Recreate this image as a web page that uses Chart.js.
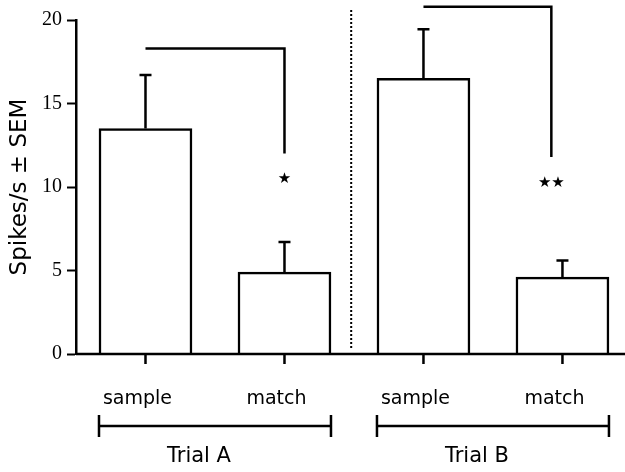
<!DOCTYPE html>
<html>
<head>
<meta charset="utf-8">
<script src="https://cdn.jsdelivr.net/npm/chart.js@4/dist/chart.umd.min.js"></script>
<style>
  html, body { margin: 0; padding: 0; background: #fff; }
  #wrap { width: 625px; height: 472px; }
</style>
</head>
<body>
<div id="wrap"><canvas id="myChart"></canvas></div>
<script>
const categories = ['sample', 'match', 'sample', 'match'];
const positions = [1, 2, 3, 4];
const trials = ['Trial A', 'Trial B'];
const means = [13.5, 4.9, 16.5, 4.6];
const sem = [3.2, 1.8, 2.95, 1.0];
const yTicks = [0, 5, 10, 15, 20];

// significance brackets (x in bar positions, y in spikes/s)
const sigFrom = [1, 3];
const sigTo = [2, 3.92];
const sigLevel = [18.3, 20.8];
const sigDrop = [12.0, 11.8];
const sigMarks = ['★', '★★'];

// dotted divider between the trials
const dividerX = 2.48;
const dividerTop = 20.6;

const black = '#000';
const sans = "'DejaVu Sans', sans-serif";

const data = {
  datasets: [{
    label: 'Spikes/s',
    data: positions.map((p, i) => ({ x: p, y: means[i] })),
    backgroundColor: '#fff',
    borderColor: black,
    borderWidth: 2.5,
    barThickness: 93
  }]
};

// extra drawing: error bars, axis, labels, brackets
const extras = {
  id: 'extras',
  afterDraw(chart) {
    const ctx = chart.ctx;
    const xs = chart.scales.x;
    const ys = chart.scales.y;
    const area = chart.chartArea;
    const y0 = ys.getPixelForValue(0);
    ctx.save();
    ctx.strokeStyle = black;
    ctx.fillStyle = black;
    ctx.lineWidth = 2.5;

    // x axis line
    ctx.beginPath();
    ctx.moveTo(area.left, y0);
    ctx.lineTo(area.right, y0);
    ctx.stroke();

    // error bars + x ticks + category labels
    ctx.font = '19px ' + sans;
    ctx.textAlign = 'center';
    ctx.textBaseline = 'middle';
    for (let i = 0; i < positions.length; i++) {
      const cx = xs.getPixelForValue(positions[i]);
      const top = ys.getPixelForValue(means[i] + sem[i]);
      ctx.beginPath();
      ctx.moveTo(cx, ys.getPixelForValue(means[i]));
      ctx.lineTo(cx, top);
      ctx.moveTo(cx - 6, top);
      ctx.lineTo(cx + 6, top);
      ctx.moveTo(cx, y0);
      ctx.lineTo(cx, y0 + 10);
      ctx.stroke();
      ctx.fillText(categories[i], cx - 8, y0 + 45);
    }

    // trial brackets
    const half = 46.5;
    for (let t = 0; t < trials.length; t++) {
      const l = xs.getPixelForValue(positions[t * 2]) - half;
      const r = xs.getPixelForValue(positions[t * 2 + 1]) + half;
      const by = y0 + 72;
      ctx.beginPath();
      ctx.moveTo(l, by);
      ctx.lineTo(r, by);
      ctx.moveTo(l, by - 11);
      ctx.lineTo(l, by + 11);
      ctx.moveTo(r, by - 11);
      ctx.lineTo(r, by + 11);
      ctx.stroke();
      ctx.font = '21px ' + sans;
      ctx.fillText(trials[t], (l + r) / 2 - 16, y0 + 103);
    }

    // significance brackets
    for (let s = 0; s < sigFrom.length; s++) {
      const x1 = xs.getPixelForValue(sigFrom[s]);
      const x2 = xs.getPixelForValue(sigTo[s]);
      const yl = ys.getPixelForValue(sigLevel[s]);
      const yd = ys.getPixelForValue(sigDrop[s]);
      ctx.beginPath();
      ctx.moveTo(x1, yl);
      ctx.lineTo(x2, yl);
      ctx.lineTo(x2, yd);
      ctx.stroke();
      ctx.font = '15px ' + sans;
      ctx.fillText(sigMarks[s], x2, yd + 26);
    }

    // dotted divider
    const dx = xs.getPixelForValue(dividerX);
    ctx.lineWidth = 2;
    ctx.setLineDash([2, 2]);
    ctx.beginPath();
    ctx.moveTo(dx, ys.getPixelForValue(dividerTop));
    ctx.lineTo(dx, y0 - 4);
    ctx.stroke();
    ctx.restore();
  }
};

const config = {
  type: 'bar',
  data: data,
  options: {
    responsive: true,
    maintainAspectRatio: false,
    animation: false,
    layout: { padding: { top: 20, bottom: 118, left: 0, right: 0 } },
    plugins: { legend: { display: false }, tooltip: { enabled: false } },
    scales: {
      x: {
        type: 'linear',
        display: false,
        offset: false,
        min: 0.5,
        max: 4.45
      },
      y: {
        min: 0,
        max: 20,
        afterBuildTicks: (scale) => { scale.ticks = yTicks.map(v => ({ value: v })); },
        afterFit: (scale) => { scale.width = 76; },
        ticks: {
          color: black,
          padding: 5,
          font: { family: "'Liberation Serif', serif", size: 20 }
        },
        grid: {
          drawOnChartArea: false,
          drawTicks: true,
          tickLength: 9,
          tickWidth: 2,
          tickColor: black
        },
        border: { display: true, color: black, width: 2.5 },
        title: {
          display: true,
          text: 'Spikes/s ± SEM',
          color: black,
          padding: { top: 6, bottom: 0 },
          font: { family: sans, size: 23 }
        }
      }
    }
  },
  plugins: [extras]
};

const myChart = new Chart(document.getElementById('myChart'), config);
</script>
</body>
</html>
